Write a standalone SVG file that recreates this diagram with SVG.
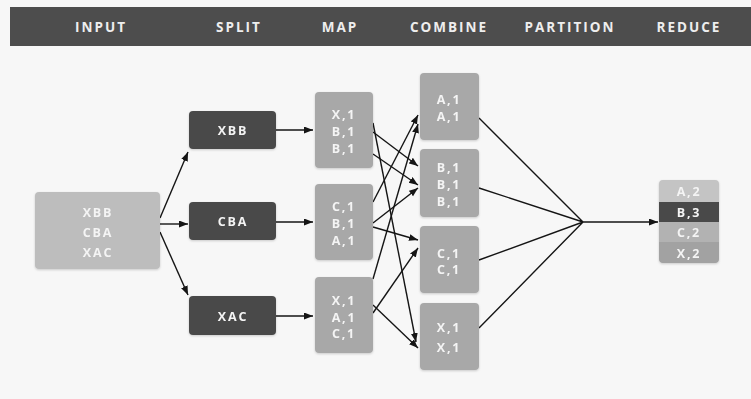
<svg xmlns="http://www.w3.org/2000/svg" width="751" height="399" viewBox="0 0 751 399">
<style>
.hdr{font-family:"Open Sans","DejaVu Sans",sans-serif;font-weight:bold;font-size:13.5px;letter-spacing:2px;fill:#eeeeee;text-anchor:middle}
.t{font-family:"Open Sans","DejaVu Sans",sans-serif;font-weight:bold;font-size:12.5px;letter-spacing:1.8px;fill:#f4f4f4;text-anchor:middle}
.in{fill:#bdbdbd}
.sp{fill:#4a4a4a}
.mp{fill:#a8a8a8}
.ln{stroke:#151515;stroke-width:1.4;fill:none}
.ar{stroke:#151515;stroke-width:1.4;fill:none;marker-end:url(#ah)}
</style>
<defs>
<marker id="ah" markerUnits="userSpaceOnUse" markerWidth="10" markerHeight="8" refX="9" refY="3.5" orient="auto">
<path d="M0,0 L9,3.5 L0,7 z" fill="#151515"/>
</marker>
<filter id="sh" x="-10%" y="-10%" width="120%" height="125%">
<feDropShadow dx="0" dy="1" stdDeviation="1" flood-color="#000" flood-opacity="0.18"/>
</filter>
</defs>
<rect x="0" y="0" width="751" height="399" fill="#f7f7f7"/>
<g id="header">
<rect x="10" y="7" width="741" height="39" fill="#4d4d4d"/>
<text class="hdr" x="101" y="32">INPUT</text>
<text class="hdr" x="239" y="32">SPLIT</text>
<text class="hdr" x="340" y="32">MAP</text>
<text class="hdr" x="449" y="32">COMBINE</text>
<text class="hdr" x="570" y="32">PARTITION</text>
<text class="hdr" x="689" y="32">REDUCE</text>
</g>
<g id="connectors">
<path class="ar" d="M160,218 L188,152"/>
<path class="ar" d="M160,224 L188,224"/>
<path class="ar" d="M160,232 L188,295"/>
<path class="ar" d="M276,130 L313,130"/>
<path class="ar" d="M276,222 L313,222"/>
<path class="ar" d="M276,316 L313,316"/>
<path class="ar" d="M373,123 L416,342"/>
<path class="ar" d="M373,132 L418,166"/>
<path class="ar" d="M373,154 L418,185"/>
<path class="ar" d="M373,202 L418,115"/>
<path class="ar" d="M373,223 L418,188"/>
<path class="ar" d="M373,227 L418,240"/>
<path class="ar" d="M373,279 L418,124"/>
<path class="ar" d="M373,313 L418,248"/>
<path class="ar" d="M373,305 L418,348"/>
<path class="ln" d="M479,118 L583,222 M479,188 L583,222 M479,260 L583,222 M479,328 L583,222"/>
<path class="ar" d="M583,222 L658,222"/>
</g>
<g id="input" filter="url(#sh)">
<rect class="in" x="35" y="192" width="125" height="77" rx="4"/>
<text class="t" x="98" y="216.5">XBB</text>
<text class="t" x="98" y="236.5">CBA</text>
<text class="t" x="98" y="256.5">XAC</text>
</g>
<g id="split1" filter="url(#sh)">
<rect class="sp" x="189" y="111" width="87" height="38" rx="4"/>
<text class="t" x="233" y="134.5">XBB</text>
</g>
<g id="split2" filter="url(#sh)">
<rect class="sp" x="189" y="202" width="87" height="38" rx="4"/>
<text class="t" x="233" y="225.5">CBA</text>
</g>
<g id="split3" filter="url(#sh)">
<rect class="sp" x="189" y="296" width="87" height="39" rx="4"/>
<text class="t" x="233" y="320.5">XAC</text>
</g>
<g id="map1" filter="url(#sh)">
<rect class="mp" x="315" y="92" width="58" height="76" rx="4"/>
<text class="t" x="344" y="118.5">X,1</text>
<text class="t" x="344" y="135.5">B,1</text>
<text class="t" x="344" y="152.5">B,1</text>
</g>
<g id="map2" filter="url(#sh)">
<rect class="mp" x="315" y="184" width="58" height="76" rx="4"/>
<text class="t" x="344" y="210.5">C,1</text>
<text class="t" x="344" y="227.5">B,1</text>
<text class="t" x="344" y="244.5">A,1</text>
</g>
<g id="map3" filter="url(#sh)">
<rect class="mp" x="315" y="277" width="58" height="76" rx="4"/>
<text class="t" x="344" y="304.5">X,1</text>
<text class="t" x="344" y="321.5">A,1</text>
<text class="t" x="344" y="337.5">C,1</text>
</g>
<g id="combine1" filter="url(#sh)">
<rect class="mp" x="420" y="73" width="59" height="67" rx="4"/>
<text class="t" x="449" y="103.5">A,1</text>
<text class="t" x="449" y="120.5">A,1</text>
</g>
<g id="combine2" filter="url(#sh)">
<rect class="mp" x="420" y="149" width="59" height="68" rx="4"/>
<text class="t" x="449" y="171.5">B,1</text>
<text class="t" x="449" y="188.5">B,1</text>
<text class="t" x="449" y="205.5">B,1</text>
</g>
<g id="combine3" filter="url(#sh)">
<rect class="mp" x="420" y="226" width="59" height="67" rx="4"/>
<text class="t" x="449" y="257.5">C,1</text>
<text class="t" x="449" y="273.5">C,1</text>
</g>
<g id="combine4" filter="url(#sh)">
<rect class="mp" x="420" y="303" width="59" height="67" rx="4"/>
<text class="t" x="449" y="331.5">X,1</text>
<text class="t" x="449" y="351.5">X,1</text>
</g>
<g id="reduce" filter="url(#sh)">
<clipPath id="rc"><rect x="659" y="180" width="60" height="83" rx="4"/></clipPath>
<g clip-path="url(#rc)">
<rect x="659" y="180" width="60" height="22" fill="#c4c4c4"/>
<rect x="659" y="202" width="60" height="20" fill="#4a4a4a"/>
<rect x="659" y="222" width="60" height="20" fill="#b2b2b2"/>
<rect x="659" y="242" width="60" height="21" fill="#a2a2a2"/>
</g>
<text class="t" x="689" y="195.5">A,2</text>
<text class="t" x="689" y="216.5">B,3</text>
<text class="t" x="689" y="236.5">C,2</text>
<text class="t" x="689" y="257.5">X,2</text>
</g>
</svg>
